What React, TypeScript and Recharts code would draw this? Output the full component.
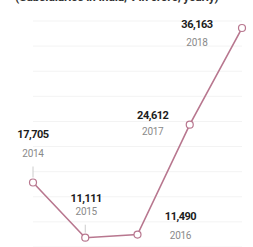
import { LineChart, Line, CartesianGrid, XAxis, YAxis } from "recharts";

const years = ["2014", "2015", "2016", "2017", "2018"];
const values = [17705, 11111, 11490, 24612, 36163];
const yTicks = [10000, 13000, 16000, 19000, 22000, 25000, 28000, 31000, 34000, 37000];

const data = years.map((year, i) => ({ year, value: values[i] }));

// label offsets relative to each point: [dx, valueDy, yearDy]
const labelOffsets = [
  [0, -47, -28],
  [1, -39, -25],
  [43, -17, 2],
  [-37, -9, 8],
  [-45, -3, 15],
];

const LINE = "#b8778f";

function PointLabel(props: any) {
  const { x, y, index, value } = props;
  const [dx, vy, yy] = labelOffsets[index];
  const cx = x + dx;
  return (
    <g>
      <text
        x={cx}
        y={y + vy}
        textAnchor="middle"
        dominantBaseline="middle"
        fontSize={11}
        fontWeight={700}
        fill="#1c1c1c"
        letterSpacing={-0.5}
      >
        {value.toLocaleString("en-US")}
      </text>
      <text
        x={cx}
        y={y + yy}
        textAnchor="middle"
        dominantBaseline="middle"
        fontSize={10}
        fill="#8a8a8a"
        letterSpacing={-0.3}
      >
        {years[index]}
      </text>
      {index < 2 && (
        <line x1={x} x2={x} y1={y + yy + 12} y2={y - 5} stroke="#cccccc" strokeWidth={1} />
      )}
    </g>
  );
}

export default function App() {
  return (
    <div
      style={{
        position: "absolute",
        left: 0,
        top: 0,
        width: 253,
        height: 247,
        background: "#fff",
        fontFamily: "Roboto, 'Liberation Sans', sans-serif",
        overflow: "hidden",
      }}
    >
      <div
        style={{
          position: "absolute",
          left: 15,
          top: -10,
          fontSize: 12,
          fontWeight: 700,
          color: "#333",
          whiteSpace: "nowrap",
          letterSpacing: -0.2,
        }}
      >
        (Subsidiaries in India, ₹ in crore, yearly)
      </div>
      <LineChart
        width={253}
        height={247}
        data={data}
        margin={{ top: 21, right: 11, bottom: 0, left: 33 }}
      >
        <CartesianGrid vertical={false} stroke="#f3f3f3" strokeWidth={1} />
        <XAxis dataKey="year" hide />
        <YAxis domain={[10000, 37000]} ticks={yTicks} hide />
        <Line
          type="linear"
          dataKey="value"
          stroke={LINE}
          strokeWidth={1.6}
          dot={{ r: 3.5, stroke: LINE, strokeWidth: 1.2, fill: "#fff" }}
          label={<PointLabel />}
          isAnimationActive={false}
        />
      </LineChart>
    </div>
  );
}
